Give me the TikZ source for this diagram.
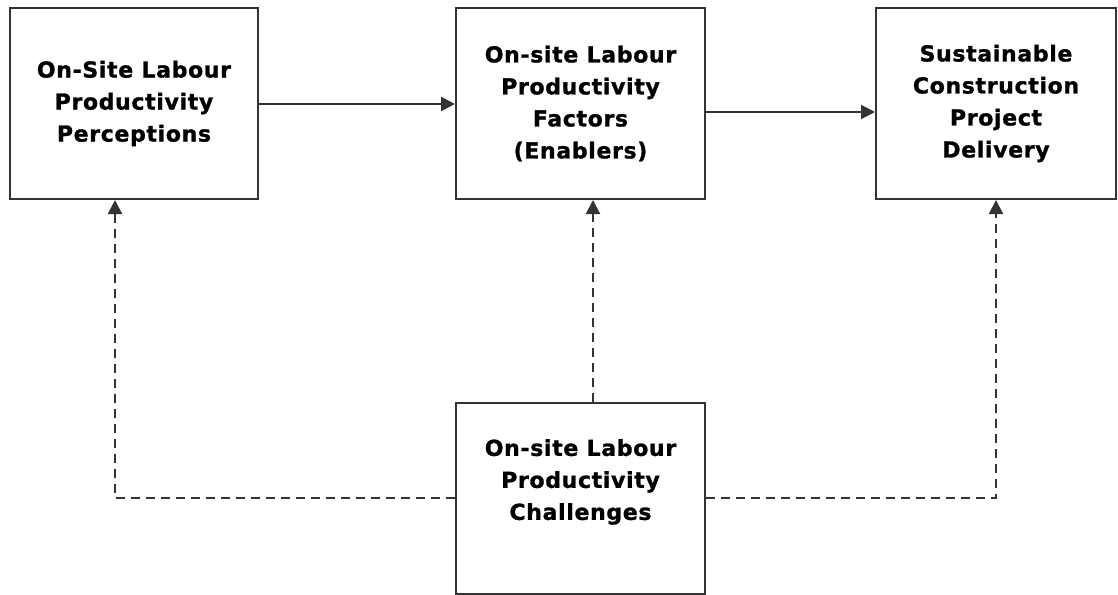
\documentclass[tikz,border=0pt]{standalone}
\usepackage{fontspec}
\setmainfont{DejaVu Sans}[LetterSpace=3,BoldFeatures={FakeBold=1.2}]
\usetikzlibrary{arrows.meta}
\definecolor{BoxLine}{HTML}{333333}

\begin{document}
\begin{tikzpicture}[x=1pt,y=-1pt,
  block/.style={draw=BoxLine,line width=2pt,align=center,inner sep=0pt,
    minimum height=191pt,font=\bfseries\fontsize{22}{32}\selectfont},
  flow/.style={BoxLine,line width=2pt,-{Triangle[length=14pt,width=14pt]}},
  feed/.style={flow,dash pattern=on 9pt off 6pt}]
  \useasboundingbox (0,0) rectangle (1118,594);
  % boxes
  \node[block,minimum width=248pt] (perc) at (134,103.5) {On-Site Labour\\Productivity\\Perceptions};
  \node[block,minimum width=249pt] (fact) at (580.5,103.5) {On-site Labour\\Productivity\\Factors\\(Enablers)};
  \node[block,minimum width=240pt] (deliv) at (996,103.5) {Sustainable\\Construction\\Project\\Delivery};
  \node[block,minimum width=249pt,text depth=37pt] (chall) at (580.5,498) {On-site Labour\\Productivity\\Challenges};
  % arrows
  \draw[flow] ([yshift=-0.5pt]perc.east) -- ([yshift=-0.5pt]fact.west);
  \draw[flow] ([yshift=-8.5pt]fact.east) -- ([yshift=-8.5pt]deliv.west);
  \draw[feed] (chall.west) -| ([xshift=-19pt]perc.south);
  \draw[feed] ([xshift=12.5pt]chall.north) -- ([xshift=12.5pt]fact.south);
  \draw[feed] (chall.east) -| (deliv.south);
\end{tikzpicture}
\end{document}
